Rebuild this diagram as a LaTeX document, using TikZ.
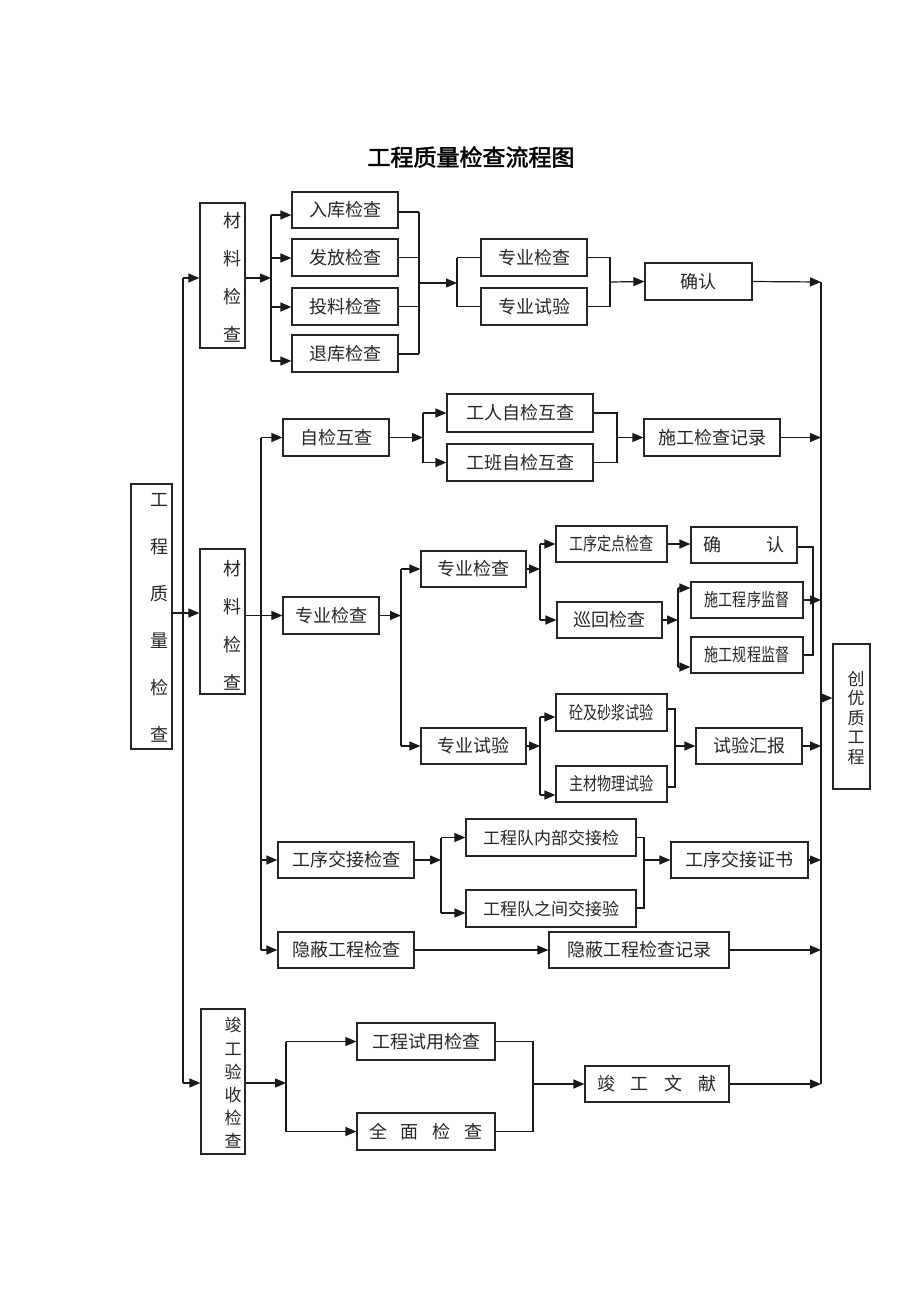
\documentclass[tikz,border=0pt]{standalone}
\usepackage{fontspec}
\usepackage{graphicx}
\newfontfamily\cjk{Noto Sans CJK SC}
\newfontfamily\cjkb[FakeBold=2]{Noto Sans CJK SC}
\usetikzlibrary{arrows.meta}
\newcommand\mybox[6]{\node[bx, minimum width={(#4-#2)*1pt}, minimum height={(#5-#3)*1pt}] (#1) at ({(#2+#4)/2},{(#3+#5)/2}) {#6};}
\newcommand\cz[1]{\scalebox{0.78}[1]{#1}}
\tikzset{
 bx/.style={draw=black!85, line width=1.2pt, inner sep=0pt, font=\cjk\fontsize{18}{18}\selectfont, text=black!85},
 ln/.style={line width=1.2pt, draw=black!90},
 ar/.style={ln, -{Triangle[length=11pt,width=9pt]}},
 vt/.style={font=\cjk\fontsize{18}{#1}\selectfont, align=center, inner sep=0pt, text=black!85},
}
\begin{document}
\begin{tikzpicture}[x=1pt,y=-1pt]
\useasboundingbox[fill=white] (0,0) rectangle (920,1302);
\node[font=\cjkb\fontsize{23}{23}\selectfont] (title) at (471,157) {工程质量检查流程图};

% vertical boxes
\mybox{main}{131}{484}{172}{749}{}
\node[vt=47] (mainT) at (159,617.5) {工\\程\\质\\量\\检\\查};
\mybox{m1}{200}{203}{245}{348}{}
\node[vt=38] (m1T) at (232,277) {材\\料\\检\\查};
\mybox{m2}{200}{549}{245}{694}{}
\node[vt=38] (m2T) at (232,625) {材\\料\\检\\查};
\mybox{m3}{201}{1009}{245}{1154}{}
\node[vt=23.2,font=\cjk\fontsize{17}{23.2}\selectfont] (m3T) at (233,1083) {竣\\工\\验\\收\\检\\查};
\mybox{k}{833}{644}{870}{789}{}
\node[vt=19.5,font=\cjk\fontsize{17}{19.5}\selectfont] (kT) at (856,718) {创\\优\\质\\工\\程};

% section 1
\mybox{b1}{292}{192}{398}{228}{入库检查}
\mybox{b2}{292}{239}{398}{276}{发放检查}
\mybox{b3}{292}{288}{398}{325}{投料检查}
\mybox{b4}{292}{335}{398}{372}{退库检查}
\mybox{c1}{481}{239}{587}{276}{专业检查}
\mybox{c2}{481}{288}{587}{325}{专业试验}
\mybox{d1}{645}{263}{752}{300}{确认}

% section 2
\mybox{e1}{283}{419}{389}{456}{自检互查}
\mybox{e2}{447}{394}{593}{432}{工人自检互查}
\mybox{e3}{447}{444}{593}{481}{工班自检互查}
\mybox{e4}{644}{419}{780}{456}{施工检查记录}
\mybox{f1}{283}{597}{379}{634}{专业检查}
\mybox{f2}{421}{551}{526}{587}{专业检查}
\mybox{f3}{421}{728}{526}{764}{专业试验}
\mybox{g1}{556}{526}{667}{562}{\cz{工序定点检查}}
\mybox{g2}{557}{602}{662}{638}{巡回检查}
\mybox{g3}{691}{527}{797}{563}{确\hspace{45pt}认}
\mybox{g4}{691}{582}{803}{618}{\cz{施工程序监督}}
\mybox{g5}{691}{637}{803}{673}{\cz{施工规程监督}}
\mybox{h1}{556}{694}{667}{731}{\cz{砼及砂浆试验}}
\mybox{h2}{556}{766}{667}{802}{\cz{主材物理试验}}
\mybox{h3}{696}{728}{802}{764}{试验汇报}

% section 3
\mybox{i1}{278}{842}{414}{878}{工序交接检查}
\mybox{i2}{466}{819}{636}{856}{{\fontsize{17}{17}\selectfont 工程队内部交接检}}
\mybox{i3}{466}{890}{636}{927}{{\fontsize{17}{17}\selectfont 工程队之间交接验}}
\mybox{i4}{671}{842}{808}{878}{工序交接证书}
\mybox{j1}{278}{932}{414}{968}{隐蔽工程检查}
\mybox{j2}{549}{932}{729}{968}{隐蔽工程检查记录}

% section 4
\mybox{n1}{357}{1023}{495}{1060}{工程试用检查}
\mybox{n2}{357}{1113}{495}{1150}{全\hspace{14pt}面\hspace{14pt}检\hspace{14pt}查}
\mybox{n3}{585}{1066}{729}{1102}{竣\hspace{16pt}工\hspace{16pt}文\hspace{16pt}献}

% bus coordinates
\coordinate (L1) at (183,278);
\coordinate (L2) at (183,613);
\coordinate (L3) at (183,1083);
\coordinate (R1) at (821,282);
\coordinate (R2) at (821,1084);

% left bus
\draw[ln] (L1) -- (L3);
\draw[ar] (L1) -- (m1.west |- L1);
\draw[ar] (main.east |- L2) -- (m2.west |- L2);
\draw[ar] (L3) -- (m3.west |- L3);
% right bus
\draw[ln] (R1) -- (R2);

% section 1 connectors
\coordinate (T0) at (271,278);
\draw[ar] (m1.east |- T0) -- (T0);
\draw[ln] (271,215) -- (271,361);
\draw[ar] (271,215) -- (b1.west |- 0,215);
\draw[ar] (271,258) -- (b2.west |- 0,258);
\draw[ar] (271,307) -- (b3.west |- 0,307);
\draw[ar] (271,361) -- (b4.west |- 0,361);
\draw[ln] (b1.east |- 0,212) -- (419,212);
\draw[ln] (b2.east) -- (b2.east -| 419,0);
\draw[ln] (b3.east) -- (b3.east -| 419,0);
\draw[ln] (b4.east |- 0,354) -- (419,354);
\draw[ln] (419,212) -- (419,354);
\draw[ar] (419,283) -- (457,283);
\draw[ln] (c1.west -| 457,0) -- (c2.west -| 457,0);
\draw[ln] (c1.west -| 457,0) -- (c1.west);
\draw[ln] (c2.west -| 457,0) -- (c2.west);
\draw[ln] (c1.east) -- (c1.east -| 610,0) -- (c2.east -| 610,0) -- (c2.east);
\draw[ar] (610,282) -- (d1.west);
\draw[ar] (d1.east) -- (R1);

% section 2 connectors
\coordinate (B2) at (261,0);
\draw[ar] (m2.east |- f1.west) -- (f1.west);
\draw[ln] (e1.west -| B2) -- (j1.west -| B2);
\draw[ar] (e1.west -| B2) -- (e1.west);
\draw[ar] (i1.west -| B2) -- (i1.west);
\draw[ar] (j1.west -| B2) -- (j1.west);

\draw[ar] (e1.east) -- (e1.east -| 423,0);
\draw[ln] (e2.west -| 423,0) -- (e3.west -| 423,0);
\draw[ar] (e2.west -| 423,0) -- (e2.west);
\draw[ar] (e3.west -| 423,0) -- (e3.west);
\draw[ln] (e2.east) -- (e2.east -| 617,0) -- (e3.east -| 617,0) -- (e3.east);
\draw[ar] (e4.west -| 617,0) -- (e4.west);
\draw[ar] (e4.east) -- (e4.east -| R1);

\draw[ar] (f1.east) -- (f1.east -| 401,0);
\draw[ln] (f2.west -| 401,0) -- (f3.west -| 401,0);
\draw[ar] (f2.west -| 401,0) -- (f2.west);
\draw[ar] (f3.west -| 401,0) -- (f3.west);

\draw[ar] (f2.east) -- (f2.east -| 540,0);
\draw[ln] (g1.west -| 540,0) -- (g2.west -| 540,0);
\draw[ar] (g1.west -| 540,0) -- (g1.west);
\draw[ar] (g2.west -| 540,0) -- (g2.west);
\draw[ar] (g1.east) -- (g3.west |- g1.east);
\draw[ar] (g2.east) -- (g2.east -| 678,0);
\draw[ln] (678,588) -- (678,667);
\draw[ar] (678,588) -- (g4.west |- 0,588);
\draw[ar] (678,667) -- (g5.west |- 0,667);
\draw[ln] (g3.east |- 0,547) -- (813,547) -- (813,655) -- (g5.east |- 0,655);
\draw[ar] (g4.east) -- (g4.east -| R1);
\draw[ar] (821,698) -- (k.west |- 0,698);

\draw[ar] (f3.east) -- (f3.east -| 540,0);
\draw[ln] (540,717) -- (540,795);
\draw[ar] (540,717) -- (h1.west |- 0,717);
\draw[ar] (540,795) -- (h2.west |- 0,795);
\draw[ln] (h1.east |- 0,709) -- (675,709) -- (675,787) -- (h2.east |- 0,787);
\draw[ar] (h3.west -| 675,0) -- (h3.west);
\draw[ar] (h3.east) -- (h3.east -| R1);

% section 3 connectors
\draw[ar] (i1.east) -- (i1.east -| 441,0);
\draw[ln] (441,837.5) -- (441,913);
\draw[ar] (441,837.5) -- (i2.west);
\draw[ar] (441,913) -- (i3.west |- 0,913);
\draw[ln] (i2.east) -- (644,837.5) -- (644,908) -- (i3.east |- 0,908);
\draw[ar] (i4.west -| 644,0) -- (i4.west);
\draw[ar] (i4.east) -- (i4.east -| R1);
\draw[ar] (j1.east) -- (j2.west);
\draw[ar] (j2.east) -- (j2.east -| R1);

% section 4 connectors
\draw[ar] (m3.east |- L3) -- (286,1083);
\draw[ln] (n1.west -| 286,0) -- (n2.west -| 286,0);
\draw[ar] (n1.west -| 286,0) -- (n1.west);
\draw[ar] (n2.west -| 286,0) -- (n2.west);
\draw[ln] (n1.east) -- (n1.east -| 533,0) -- (n2.east -| 533,0) -- (n2.east);
\draw[ar] (n3.west -| 533,0) -- (n3.west);
\draw[ar] (n3.east) -- (R2);
\end{tikzpicture}
\end{document}
